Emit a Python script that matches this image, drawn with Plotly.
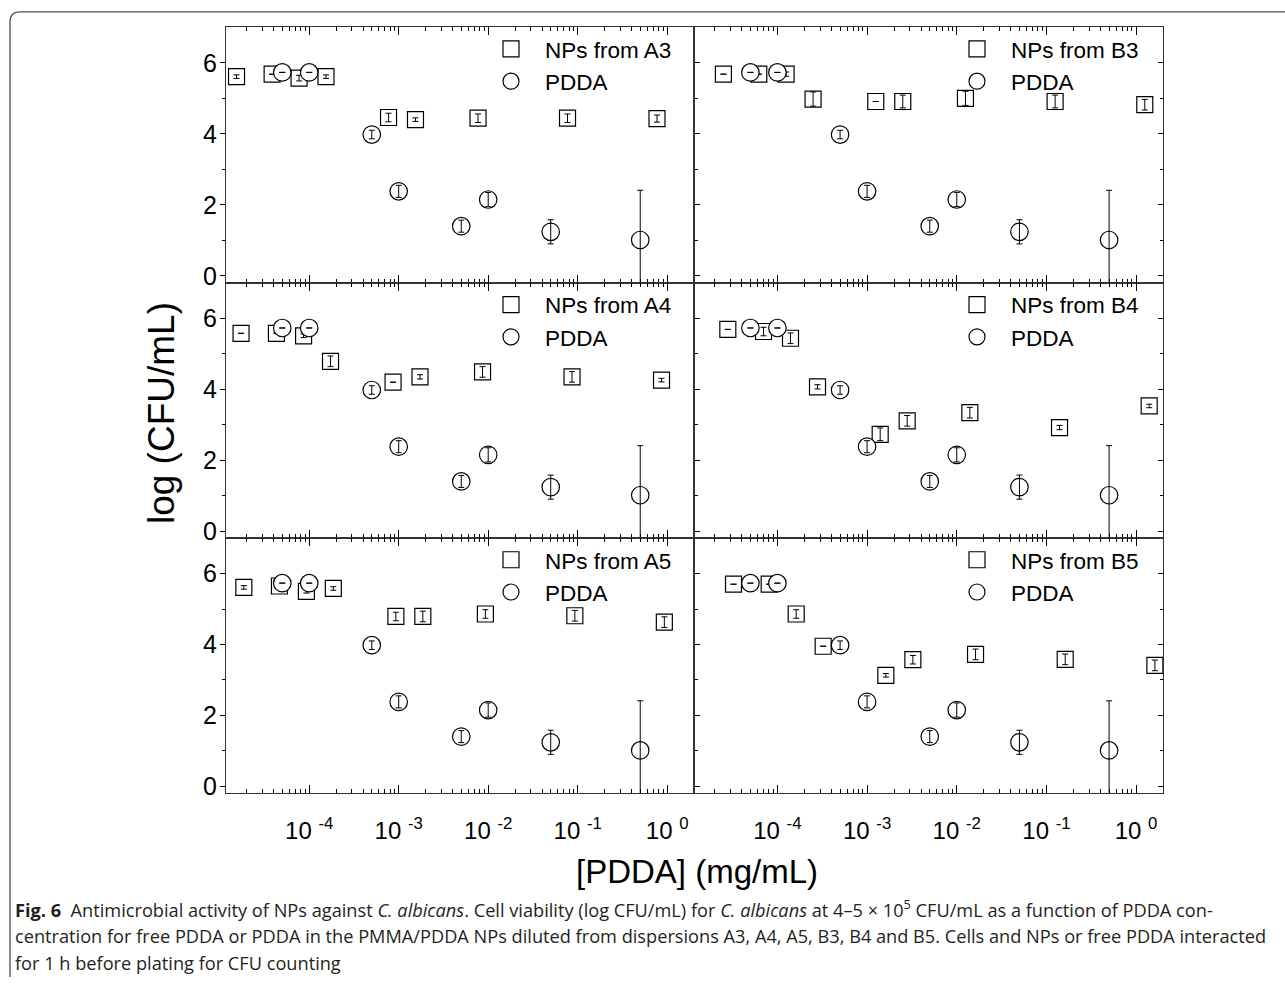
import plotly.graph_objects as go
from plotly.subplots import make_subplots

W, H = 1285, 984

# ---------------- data ----------------
pdda_x = [5e-5, 1e-4, 5e-4, 1e-3, 5e-3, 1e-2, 5e-2, 0.5]
pdda_y = [5.73, 5.73, 3.98, 2.38, 1.40, 2.15, 1.24, 1.01]
pdda_err = [None, None, 0.12, 0.17, 0.17, 0.20, 0.34, 1.40]

a3_x = [1.54e-5, 3.85e-5, 7.7e-5, 1.54e-4, 7.7e-4, 1.54e-3, 7.7e-3, 7.7e-2, 0.77]
a3_y = [5.61, 5.68, 5.57, 5.61, 4.46, 4.40, 4.44, 4.44, 4.43]
a3_err = [0.05, None, 0.08, 0.05, 0.12, 0.05, 0.12, 0.12, 0.10]

b3_x = [2.5e-5, 6.2e-5, 1.25e-4, 2.5e-4, 1.25e-3, 2.5e-3, 1.25e-2, 0.125, 1.25]
b3_y = [5.68, 5.68, 5.68, 4.98, 4.91, 4.91, 5.00, 4.91, 4.82]
b3_err = [None, None, 0.06, 0.20, None, 0.18, 0.20, 0.18, 0.15]

a4_x = [1.73e-5, 4.3e-5, 8.65e-5, 1.73e-4, 8.65e-4, 1.73e-3, 8.65e-3, 8.65e-2, 0.865]
a4_y = [5.58, 5.58, 5.51, 4.79, 4.20, 4.35, 4.49, 4.35, 4.26]
a4_err = [None, None, 0.05, 0.15, None, 0.06, 0.15, 0.15, 0.05]

b4_x = [2.8e-5, 7.0e-5, 1.4e-4, 2.8e-4, 1.4e-3, 2.8e-3, 1.4e-2, 0.14, 1.4]
b4_y = [5.69, 5.63, 5.44, 4.07, 2.73, 3.11, 3.34, 2.92, 3.53]
b4_err = [None, 0.12, 0.15, 0.06, 0.18, 0.15, 0.15, 0.06, 0.05]

a5_x = [1.86e-5, 4.65e-5, 9.3e-5, 1.86e-4, 9.3e-4, 1.86e-3, 9.3e-3, 9.3e-2, 0.93]
a5_y = [5.61, 5.65, 5.50, 5.58, 4.79, 4.79, 4.86, 4.81, 4.63]
a5_err = [0.05, None, 0.05, 0.05, 0.12, 0.15, 0.12, 0.15, 0.15]

b5_x = [3.24e-5, 8.1e-5, 1.62e-4, 3.24e-4, 1.62e-3, 3.24e-3, 1.62e-2, 0.162, 1.62]
b5_y = [5.70, 5.70, 4.86, 3.95, 3.13, 3.57, 3.72, 3.58, 3.41]
b5_err = [None, None, 0.12, None, 0.05, 0.12, 0.15, 0.15, 0.15]

panel_names = ["A3", "B3", "A4", "B4", "A5", "B5"]
panel_x = [a3_x, b3_x, a4_x, b4_x, a5_x, b5_x]
panel_y = [a3_y, b3_y, a4_y, b4_y, a5_y, b5_y]
panel_err = [a3_err, b3_err, a4_err, b4_err, a5_err, b5_err]

x_tick_vals = [1e-4, 1e-3, 1e-2, 1e-1, 1e0]
x_tick_text = ["10 <sup>-4</sup>", "10 <sup>-3</sup>", "10 <sup>-2</sup>",
               "10 <sup>-1</sup>", "10 <sup>0</sup>"]
y_tick_vals = [0, 2, 4, 6]

caption_lines = [
    "<b>Fig. 6</b>  Antimicrobial activity of NPs against <i>C. albicans</i>. Cell viability (log CFU/mL) "
    "for <i>C. albicans</i> at 4–5 × 10<sup>5</sup> CFU/mL as a function of PDDA con-",
    "centration for free PDDA or PDDA in the PMMA/PDDA NPs diluted from dispersions A3, A4, A5, B3, "
    "B4 and B5. Cells and NPs or free PDDA interacted",
    "for 1 h before plating for CFU counting",
]

# ---------------- layout geometry (pixels) ----------------
col_px = [(226, 694), (694, 1163)]
row_px = [(27.5, 285), (285, 542), (542, 799)]
caption_y_px = [915, 943, 970]
FONT = "Liberation Sans, Arial, sans-serif"

fig = make_subplots(rows=3, cols=2, horizontal_spacing=0, vertical_spacing=0)

minor_x = [k * 10.0 ** e for e in range(-6, 1) for k in range(2, 10)]

for i in range(6):
    r, c = i // 2, i % 2
    n = i + 1
    xa = "x" if n == 1 else f"x{n}"
    ya = "y" if n == 1 else f"y{n}"
    leg = "legend" if n == 1 else f"legend{n}"

    fig.add_trace(go.Scatter(
        x=panel_x[i], y=panel_y[i], mode="markers", name=f"NPs from {panel_names[i]}",
        marker=dict(symbol="square", size=16, color="white",
                    line=dict(color="black", width=1.2)),
        xaxis=xa, yaxis=ya, legend=leg, legendgroup=f"s{n}", hoverinfo="x+y"))
    fig.add_trace(go.Scatter(
        x=panel_x[i], y=panel_y[i], mode="markers", showlegend=False,
        marker=dict(size=1, opacity=0),
        error_y=dict(type="data", array=panel_err[i], visible=True,
                     color="black", thickness=1, width=3),
        xaxis=xa, yaxis=ya, hoverinfo="skip"))
    fig.add_trace(go.Scatter(
        x=pdda_x, y=pdda_y, mode="markers", name="PDDA",
        marker=dict(symbol="circle", size=17.5, color="white",
                    line=dict(color="black", width=1.2)),
        xaxis=xa, yaxis=ya, legend=leg, legendgroup=f"c{n}", hoverinfo="x+y"))
    fig.add_trace(go.Scatter(
        x=pdda_x, y=pdda_y, mode="markers", showlegend=False,
        marker=dict(size=1, opacity=0),
        error_y=dict(type="data", array=pdda_err, visible=True,
                     color="black", thickness=1, width=3),
        xaxis=xa, yaxis=ya, hoverinfo="skip"))

    x0, x1 = col_px[c]
    y0, y1 = row_px[r]
    xkey = "xaxis" if n == 1 else f"xaxis{n}"
    ykey = "yaxis" if n == 1 else f"yaxis{n}"
    fig.layout[xkey].update(
        type="log", range=[-4.93, 0.30], domain=[x0 / W, x1 / W],
        tickmode="array", tickvals=x_tick_vals, ticktext=x_tick_text,
        ticks="inside", ticklen=8, tickwidth=1, tickcolor="black",
        minor=dict(tickmode="array", tickvals=minor_x, ticks="inside", ticklen=4,
                   tickwidth=1, tickcolor="black", showgrid=False),
        showline=True, linecolor="#333333", linewidth=1.3, mirror="allticks",
        showgrid=False, zeroline=False, showticklabels=(r == 2),
        tickfont=dict(family=FONT, size=24, color="black"),
        ticklabelstandoff=16)
    fig.layout[ykey].update(
        range=[-0.2, 7.0], domain=[1 - y1 / H, 1 - y0 / H],
        tickmode="array", tickvals=y_tick_vals,
        ticks="outside" if c == 0 else "inside", ticklen=5, tickwidth=1, tickcolor="black",
        minor=dict(tickmode="array", tickvals=[1, 3, 5],
                   ticks="outside" if c == 0 else "inside", ticklen=3,
                   tickwidth=1, tickcolor="black", showgrid=False),
        showline=True, linecolor="#333333", linewidth=1.3, mirror="allticks",
        showgrid=False, zeroline=False, showticklabels=(c == 0),
        tickfont=dict(family=FONT, size=25, color="black"),
        ticklabelstandoff=-2)

    # per-panel legend (symbol centre at legend-left + 34, text at +68)
    lx = (x0 + (285 if c == 0 else 283) - 34) / W
    ly = 1 - (y0 + 0.5) / H
    fig.layout[leg] = dict(
        x=lx, y=ly, xanchor="left", yanchor="top", bgcolor="rgba(0,0,0,0)",
        borderwidth=0, font=dict(family=FONT, size=22.5, color="black"),
        traceorder="normal", itemsizing="trace", tracegroupgap=0, itemwidth=58)

annotations = [
    dict(text="log (CFU/mL)", x=161 / W, y=1 - 416 / H, xref="paper", yref="paper",
         textangle=-90, showarrow=False, xanchor="center", yanchor="middle",
         font=dict(family=FONT, size=37, color="black")),
    dict(text="[PDDA] (mg/mL)", x=697 / W, y=1 - 878 / H, xref="paper", yref="paper",
         showarrow=False, xanchor="center", yanchor="middle",
         font=dict(family=FONT, size=33, color="black")),
]
for k, line in enumerate(caption_lines):
    annotations.append(dict(
        text=line, x=13 / W, y=1 - caption_y_px[k] / H, xref="paper", yref="paper",
        showarrow=False, xanchor="left", yanchor="middle", align="left",
        font=dict(family="Open Sans, sans-serif", size=18.2, color="#231f20")))

# rounded frame (top and left edges)
fx, fy, rad = 10, 12, 10
path = (f"M {fx / W},0 L {fx / W},{1 - (fy + rad) / H} "
        f"Q {fx / W},{1 - fy / H} {(fx + rad) / W},{1 - fy / H} L 1,{1 - fy / H}")

fig.update_layout(
    width=W, height=H, margin=dict(l=0, r=0, t=0, b=0),
    paper_bgcolor="white", plot_bgcolor="white",
    annotations=annotations,
    shapes=[dict(type="path", path=path, xref="paper", yref="paper",
                 line=dict(color="#4d4d4d", width=1.3))],
    showlegend=True,
)

fig.write_html("out.html", config={"displayModeBar": False},
               post_script="document.body.style.margin='0';document.body.style.overflow='hidden';")
